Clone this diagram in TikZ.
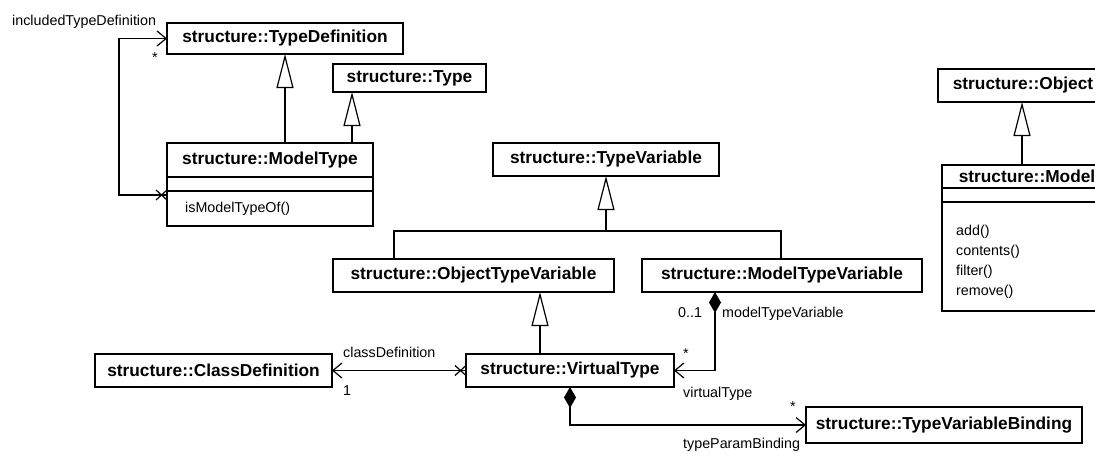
\documentclass[tikz,border=0pt]{standalone}
\usepackage{fontspec}
\setmainfont{Liberation Sans}
\usepackage{tikz}
\usetikzlibrary{arrows.meta,calc,positioning}

\newcommand{\clsfont}{\fontsize{17.3}{20}\selectfont\bfseries}
\newcommand{\lblfont}{\fontsize{14.3}{17}\selectfont}
% cross for a non navigable end, #1 = point on the box border
\newcommand{\nonav}[1]{%
	\draw[line width=1.2pt] ($(#1)+(-11,-5)$) -- ($(#1)+(0,5)$);
	\draw[line width=1.2pt] ($(#1)+(-11,5)$) -- ($(#1)+(0,-5)$);}

\begin{document}
\begin{tikzpicture}[x=1pt,y=-1pt,
	cls/.style={draw,line width=1.6pt,font=\clsfont,inner sep=0pt,outer sep=0pt,minimum height=33pt,anchor=north west},
	lbl/.style={font=\lblfont,inner sep=0pt,anchor=base west},
	mult/.style={font=\lblfont,inner sep=0pt,anchor=base},
	gen/.style={line width=1.2pt,-{Triangle[open,length=34pt,width=17pt]}},
	navi/.style={line width=1.2pt,-{Straight Barb[length=9pt,width=15pt]}},
	comp/.style={line width=1.2pt,{Diamond[length=21pt,width=12pt]}-{Straight Barb[length=9pt,width=15pt]}}]
		\useasboundingbox (0,0) rectangle (1095,451);
		\clip (0,0) rectangle (1095,451);
		% classes
		\node[cls,minimum width=236pt,minimum height=31pt] (tdef) at (167,23) {structure::TypeDefinition};
		\node[cls,minimum width=153pt,minimum height=28pt] (type) at (333,64) {structure::Type};
		\node[cls,minimum width=206pt,minimum height=34pt] (mtype) at (167,143) {structure::ModelType};
		\node[cls,minimum width=206pt,minimum height=14pt] (mtypeattr) at (mtype.south west) {};
		\node[cls,minimum width=206pt,minimum height=35pt] (mtypeops) at (mtypeattr.south west) {};
		\node[lbl] (mtypeop) at ($(mtypeops.north west)+(18,21)$) {isModelTypeOf()};
		\node[cls,minimum width=226pt] (tvar) at (493,143) {structure::TypeVariable};
		\node[cls,minimum width=281pt] (otvar) at (333,259) {structure::ObjectTypeVariable};
		\node[cls,minimum width=280pt] (mtvar) at (642,259) {structure::ModelTypeVariable};
		\node[cls,minimum width=237pt] (cdef) at (95,354) {structure::ClassDefinition};
		\node[cls,minimum width=208pt] (vtype) at (466,354) {structure::VirtualType};
		\node[cls,minimum width=276pt,minimum height=36pt] (tvbind) at (806,407) {structure::TypeVariableBinding};
		\node[cls,minimum width=170pt] (obj) at (938,69) {structure::Object};
		\node[cls,minimum width=170pt,minimum height=23pt] (model) at (942,165) {structure::Model};
		\node[cls,minimum width=170pt,minimum height=14pt] (modelattr) at (model.south west) {};
		\node[cls,minimum width=170pt,minimum height=109pt] (modelops) at (modelattr.south west) {};
		\node[lbl] (opadd) at ($(modelops.north west)+(14,33)$) {add()};
		\node[lbl] (opcont) at ($(opadd.base west)+(0,20)$) {contents()};
		\node[lbl] (opfilt) at ($(opcont.base west)+(0,20)$) {filter()};
		\node[lbl] (oprem) at ($(opfilt.base west)+(0,20)$) {remove()};

		% generalizations
		\draw[gen] (mtype.north -| tdef.south) -- (tdef.south);
		\coordinate (mtypeup) at ($(mtype.north east)+(-21,0)$);
		\draw[gen] (mtypeup) -- (mtypeup |- type.south);
		\coordinate (tvarsplit) at ($(tvar.south)+(0,55)$);
		\draw[line width=1.2pt] ($(otvar.north west)+(61,0)$) |- (tvarsplit) -| ($(mtvar.north west)+(139,0)$);
		\draw[gen] (tvarsplit) -- (tvar.south);
		\coordinate (vtypeup) at ($(vtype.north west)+(74,0)$);
		\draw[gen] (vtypeup) -- (vtypeup |- otvar.south);
		\draw[gen] (model.north -| 1022,0) -- (obj.south -| 1022,0);

		% associations
		\coordinate (selfend) at ($(mtypeops.north west)+(0,4)$);
		\draw[navi] (selfend) -- ++(-48,0) |- (tdef.west);
		\nonav{selfend}
		\draw[navi] (vtype.west) -- (cdef.east);
		\nonav{vtype.west}
		\draw[comp] ($(mtvar.south west)+(73,0)$) |- (vtype.east);
		\draw[comp] (vtype.south) |- (tvbind.west);

		% role names and multiplicities
		\node[lbl] (lblincl) at (12,25) {includedTypeDefinition};
		\node[mult] (multincl) at (155,62) {*};
		\node[lbl] (lblcdef) at (343,357) {classDefinition};
		\node[mult] (multcdef) at (347,395) {1};
		\node[lbl] (multmtvar) at (678,317) {0..1};
		\node[lbl] (lblmtvar) at (722,317) {modelTypeVariable};
		\node[mult] (multvtype) at (686,358) {*};
		\node[lbl] (lblvtype) at (683,397) {virtualType};
		\node[mult] (multbind) at (793,411) {*};
		\node[lbl] (lblbind) at (683,448) {typeParamBinding};
\end{tikzpicture}
\end{document}
